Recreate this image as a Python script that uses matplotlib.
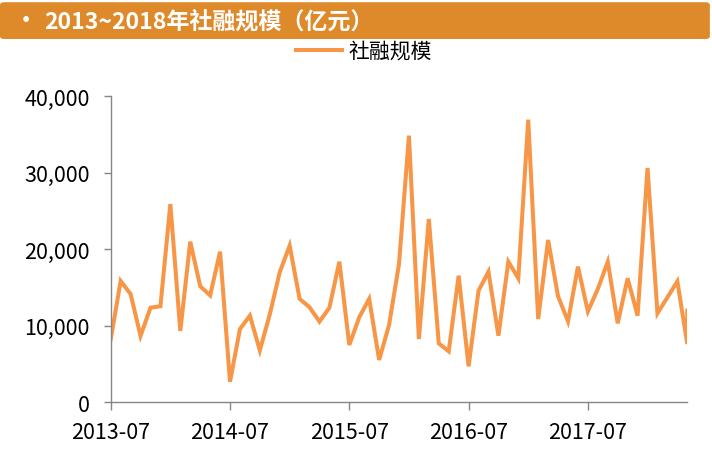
import pandas as pd
import numpy as np
import matplotlib
matplotlib.use("Agg")
import matplotlib.pyplot as plt
from matplotlib.patches import FancyBboxPatch

plt.rcParams['font.family'] = ['Noto Sans CJK SC', 'DejaVu Sans']

# ================================================================
# DONNÉES : 社融规模 mensuel (亿元), 2013-07 -> 2018-06
# ================================================================
# le dernier point (2018-06) est dessiné sur la même position que 2018-05
MONTHS = [str(p) for p in pd.period_range("2013-07", "2018-05", freq="M")] + ["2018-05"]
VALUES = [8190, 15840, 14120, 8645, 12340, 12530,
          25900, 9300, 20980, 15150, 13950, 19670,
          2650, 9550, 11300, 6750, 11450, 16970,
          20460, 13500, 12400, 10520, 12340, 18360,
          7460, 11080, 13500, 5500, 10080, 18060,
          34850, 8240, 23950, 7670, 6630, 16530,
          4670, 14570, 17050, 8680, 18360, 16180,
          36940, 10860, 21200, 13830, 10550, 17710,
          11860, 14790, 18360, 10290, 16180, 11300,
          30620, 11600, 13690, 15790, 7590, 11950]
XTICK_LABELS = ["2013-07", "2014-07", "2015-07", "2016-07", "2017-07"]
SERIES_NAME = "社融规模"
TITLE = "2013~2018年社融规模（亿元）"

LINE_COLOR = "#F79646"
BAR_COLOR = "#DF8A2A"
AXIS_COLOR = "#868686"

# index de mois depuis 2013-07
start = pd.Period("2013-07", freq="M")
x = np.array([(pd.Period(m, freq="M") - start).n for m in MONTHS])
xticks = [(pd.Period(m, freq="M") - start).n for m in XTICK_LABELS]

# ================================================================
# FIGURE
# ================================================================
fig = plt.figure(figsize=(7.12, 4.60), dpi=100)
ax = fig.add_axes([0.1555, 0.1239, 0.8098, 0.6646])

ax.plot(x, VALUES, color=LINE_COLOR, lw=2.9, label=SERIES_NAME,
        solid_joinstyle='miter')

ax.set_xlim(0, x.max())
ax.set_ylim(0, 40000)
ax.set_yticks(np.arange(0, 40001, 10000))
ax.yaxis.set_major_formatter(plt.FuncFormatter(lambda v, p: f"{v:,.0f}"))
ax.set_xticks(xticks)
ax.set_xticklabels(XTICK_LABELS)

for s in ["top", "right"]:
    ax.spines[s].set_visible(False)
for s in ["left", "bottom"]:
    ax.spines[s].set_color(AXIS_COLOR)
    ax.spines[s].set_linewidth(1.0)
ax.tick_params(axis='y', length=5, width=1.0, color=AXIS_COLOR, labelsize=15.5, pad=10)
ax.tick_params(axis='x', length=6, width=1.0, color=AXIS_COLOR, labelsize=15.5, pad=8)

# bandeau de titre
bar = FancyBboxPatch((0.0, 0.913), 0.997, 0.08, boxstyle="round,pad=0,rounding_size=0.006",
                     transform=fig.transFigure, facecolor=BAR_COLOR, edgecolor="none")
fig.patches.append(bar)
fig.text(0.021, 0.953, "•", color="white", fontsize=16, fontweight='bold', va='center')
fig.text(0.062, 0.953, TITLE, color="white", fontsize=16.6, fontweight='bold', va='center')

ax.legend(loc='center', bbox_to_anchor=(0.511, 0.887), bbox_transform=fig.transFigure,
          frameon=False, fontsize=15, handlelength=2.2, handletextpad=0.3)

plt.savefig("out.png", dpi=100)
